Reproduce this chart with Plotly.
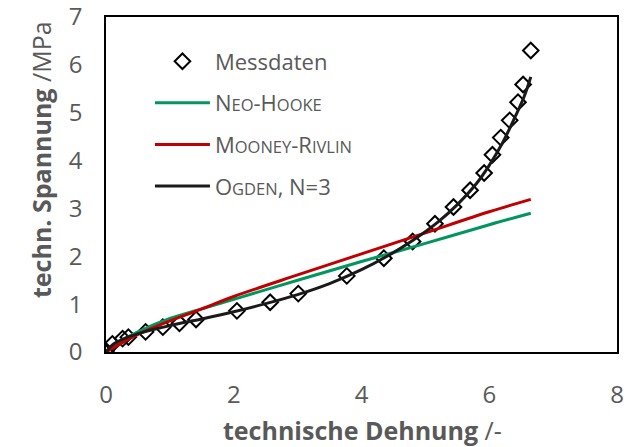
import plotly.graph_objects as go

# Messdaten (measured data)
mess_x = [0.0, 0.10, 0.26, 0.35, 0.62, 0.89, 1.15, 1.41, 2.05, 2.57, 3.01, 3.77, 4.35,
          4.80, 5.15, 5.44, 5.70, 5.92, 6.05, 6.18, 6.32, 6.45, 6.53, 6.65]
mess_y = [0.02, 0.17, 0.28, 0.31, 0.42, 0.52, 0.60, 0.68, 0.86, 1.04, 1.22, 1.59, 1.96,
          2.31, 2.68, 3.03, 3.38, 3.74, 4.12, 4.48, 4.84, 5.22, 5.59, 6.30]

# Neo-Hooke fit
neo_x = [0.0, 0.25, 0.5, 1.0, 1.5, 2.0, 3.0, 4.0, 5.0, 6.0, 6.65]
neo_y = [0.0, 0.24, 0.42, 0.70, 0.90, 1.10, 1.50, 1.89, 2.27, 2.66, 2.90]

# Mooney-Rivlin fit
mr_x = [0.0, 0.25, 0.5, 1.0, 1.5, 2.0, 3.0, 4.0, 5.0, 6.0, 6.65]
mr_y = [0.0, 0.19, 0.37, 0.65, 0.90, 1.16, 1.61, 2.05, 2.49, 2.93, 3.19]

# Ogden N=3 fit
og_x = [0.0, 0.1, 0.3, 0.6, 0.9, 1.2, 1.5, 2.0, 2.5, 3.0, 3.5, 4.0, 4.4, 4.8, 5.2,
        5.5, 5.8, 6.0, 6.2, 6.4, 6.55, 6.65]
og_y = [0.0, 0.15, 0.29, 0.42, 0.52, 0.61, 0.69, 0.84, 1.01, 1.20, 1.43, 1.72, 2.00,
        2.33, 2.72, 3.08, 3.52, 3.90, 4.35, 4.90, 5.35, 5.75]

x_ticks = [0, 2, 4, 6, 8]
y_ticks = [0, 1, 2, 3, 4, 5, 6, 7]

FONT = "Open Sans"
GREY = "#595959"
SC = "font-size:16.5px"

fig = go.Figure()
fig.add_trace(go.Scatter(
    x=mess_x, y=mess_y, mode="markers", name="Messdaten", legendgroup="a",
    marker=dict(symbol="diamond-open", size=12, color="#000000", line=dict(width=2, color="#000000")),
))
fig.add_trace(go.Scatter(
    x=neo_x, y=neo_y, mode="lines", legendgroup="b", line_shape="spline",
    name=f"N<span style='{SC}'>EO</span>-H<span style='{SC}'>OOKE</span>",
    line=dict(color="#00965E", width=3),
))
fig.add_trace(go.Scatter(
    x=mr_x, y=mr_y, mode="lines", legendgroup="c", line_shape="spline",
    name=f"M<span style='{SC}'>OONEY</span>-R<span style='{SC}'>IVLIN</span>",
    line=dict(color="#C00000", width=3),
))
fig.add_trace(go.Scatter(
    x=og_x, y=og_y, mode="lines", legendgroup="d", line_shape="spline",
    name=f"O<span style='{SC}'>GDEN</span>, N=3",
    line=dict(color="#1A1A1A", width=3),
))

fig.update_layout(
    width=642, height=447,
    margin=dict(l=106, r=25, t=17, b=95),
    paper_bgcolor="white", plot_bgcolor="white",
    font=dict(family=FONT, color=GREY),
    showlegend=True,
    legend=dict(
        x=0.086, y=0.93, xanchor="left", yanchor="top",
        bgcolor="rgba(0,0,0,0)", font=dict(size=22, color=GREY, family=FONT),
        traceorder="grouped", tracegroupgap=10, itemwidth=55,
    ),
    xaxis=dict(
        range=[0, 8], tickvals=x_ticks, showgrid=False, zeroline=False,
        showline=True, mirror=True, linecolor="#000000", linewidth=1.5,
        ticks="", tickfont=dict(size=24, color=GREY, family=FONT), ticklabelstandoff=20,
        ticklabeloverflow="allow", automargin=False,
    ),
    yaxis=dict(
        range=[0, 7], tickvals=y_ticks, showgrid=False, zeroline=False,
        showline=True, mirror=True, linecolor="#000000", linewidth=1.5,
        ticks="", tickfont=dict(size=24, color=GREY, family=FONT), ticklabelstandoff=17,
        ticklabeloverflow="allow", automargin=False,
    ),
    annotations=[
        dict(text="<b>technische Dehnung</b> /-", xref="paper", yref="paper",
             x=(362 - 106) / 511, y=(352 - 430) / 335, xanchor="center", yanchor="middle",
             showarrow=False, font=dict(size=25, color=GREY, family=FONT)),
        dict(text="<b>techn. Spannung</b> /MPa", xref="paper", yref="paper",
             x=(41 - 106) / 511, y=(352 - 160) / 335, xanchor="center", yanchor="middle",
             textangle=-90, showarrow=False, font=dict(size=25, color=GREY, family=FONT)),
    ],
)

fig.write_html("out.html")
